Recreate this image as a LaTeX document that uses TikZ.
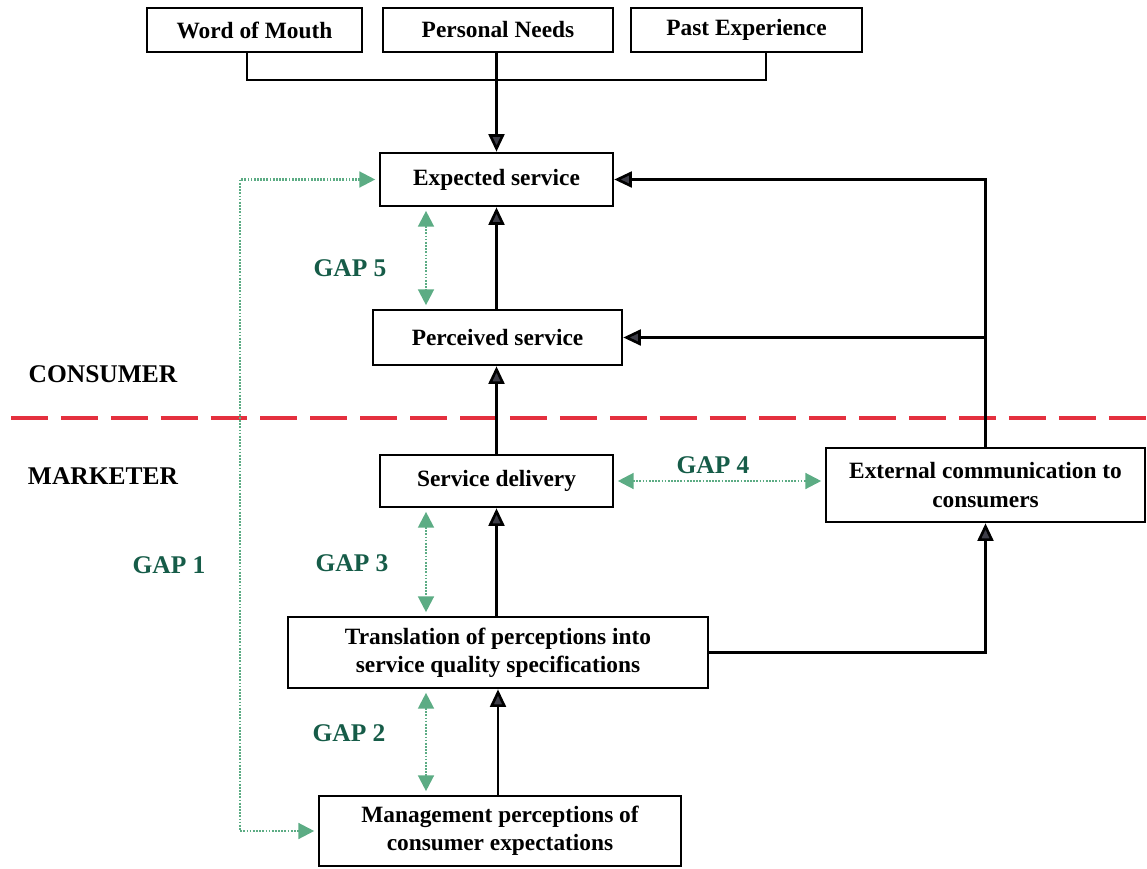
\documentclass[tikz,border=0pt]{standalone}
\usepackage{fontspec}
\setmainfont{Liberation Serif}
\usetikzlibrary{arrows.meta}

\definecolor{gapgreen}{RGB}{92,172,132}
\definecolor{gaptext}{RGB}{22,92,72}
\definecolor{divred}{RGB}{228,48,62}
\definecolor{tipgray}{RGB}{62,62,72}

\begin{document}
\begin{tikzpicture}[x=0.02cm, y=-0.02cm,
            every node/.style={font=\fontsize{13.3}{16}\selectfont\bfseries},
            box/.style={draw, line width=1.5pt, align=center, inner sep=0pt},
            flow/.style={line width=1.5pt, -{Triangle[length=10pt, width=9pt, fill=tipgray]}},
            gap/.style={gapgreen, line width=1.3pt, dash pattern=on 1pt off 0.8pt,
                        {Triangle[length=9pt, width=9pt]}-{Triangle[length=9pt, width=9pt]},
                        shorten <=2pt, shorten >=2pt},
            gaplabel/.style={text=gaptext, font=\fontsize{14.5}{17}\selectfont\bfseries},
            side/.style={font=\fontsize{14.5}{17}\selectfont\bfseries}
        ]
        \useasboundingbox (0,0) rectangle (1147,869);

        % expectation sources
        \node[box, minimum width=4.3cm, minimum height=0.88cm] (wom) at (254.5,30) {Word of Mouth};
        \node[box, minimum width=4.6cm, minimum height=0.88cm] (needs) at (498,30) {Personal Needs};
        \node[box, minimum width=4.62cm, minimum height=0.88cm] (past) at (746.5,30) {Past Experience};

        % consumer side
        \node[box, minimum width=4.66cm, minimum height=1.06cm] (exp) at (496.5,179.5) {Expected service};
        \node[box, minimum width=4.98cm, minimum height=1.1cm] (perc) at (497.5,337.5) {Perceived service};

        % marketer side
        \node[box, minimum width=4.66cm, minimum height=1.04cm] (del) at (496.5,481) {Service delivery};
        \node[box, minimum width=6.38cm, minimum height=1.48cm] (ext) at (985.5,485) {External communication to\\consumers};
        \node[box, minimum width=8.4cm, minimum height=1.42cm] (trans) at (498,652.5) {Translation of perceptions into\\service quality specifications};
        \node[box, minimum width=7.24cm, minimum height=1.4cm] (mgmt) at (500,831) {Management perceptions of\\consumer expectations};

        \node[side] (consumer) at (103,374) {CONSUMER};
        \node[side] (marketer) at (103,476) {MARKETER};

        \node[gaplabel] (g5) at (350,268) {GAP 5};
        \node[gaplabel] (g4) at (713,465) {GAP 4};
        \node[gaplabel] (g3) at (352,563) {GAP 3};
        \node[gaplabel] (g2) at (349,733) {GAP 2};
        \node[gaplabel] (g1) at (169,565) {GAP 1};

        \coordinate (jl) at (247,80);
        \coordinate (jr) at (766,80);
        \coordinate (gx) at (426,0);
        \coordinate (g1top) at (240,180);

        % dividing line
        \draw[divred, line width=2.8pt, dash pattern=on 21pt off 7.4pt] (11,418) -- (1147,418);

        % solid connectors
        \draw[line width=1.5pt] (wom.south -| jl) -- (jl) -- (jr) -- (jr |- past.south);
        \draw[flow] (exp.north |- needs.south) -- (exp.north);
        \draw[flow] (perc.north -| exp.south) -- (exp.south);
        \draw[flow] (del.north) -- (perc.south -| del.north);
        \draw[flow] (trans.north -| del.south) -- (del.south);
        \draw[flow] (mgmt.north -| trans.south) -- (trans.south);
        \draw[flow] (ext.north) |- (exp.east);
        \draw[flow] (ext.north |- perc.east) -- (perc.east);
        \draw[flow] (trans.east) -| (ext.south);

        % gaps
        \draw[gap] (exp.south -| gx) -- (perc.north -| gx);
        \draw[gap] (del.south -| gx) -- (trans.north -| gx);
        \draw[gap] (trans.south -| gx) -- (mgmt.north -| gx);
        \draw[gap] (del.east) -- (del.east -| ext.west);
        \draw[gap] (exp.west) -- (exp.west -| g1top) |- (mgmt.west);

\end{tikzpicture}
\end{document}
